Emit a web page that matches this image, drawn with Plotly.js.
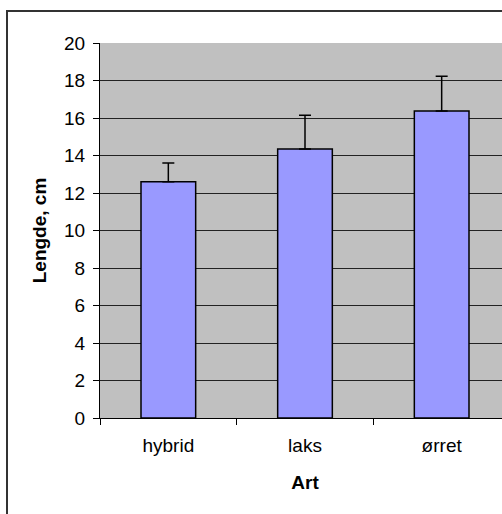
<!DOCTYPE html>
<html>
<head>
<meta charset="utf-8">
<script src="https://cdn.plot.ly/plotly-3.0.1.min.js"></script>
<style>
html, body { margin:0; padding:0; overflow:hidden; background:#fff; width:502px; height:514px; }
#chart { position:absolute; left:0; top:0; width:530px; height:530px; }
#frame { position:absolute; left:6px; top:10px; width:600px; height:600px; border:2px solid #333; pointer-events:none; }
</style>
</head>
<body>
<div id="chart"></div>
<div id="frame"></div>
<script>
const categories = ["hybrid", "laks", "ørret"];
const meanLength = [12.6, 14.35, 16.38];
const sdLength = [1.0, 1.8, 1.85];
const zeros = [0, 0, 0];

const trace = {
  type: "bar",
  x: categories,
  y: meanLength,
  width: 0.4,
  marker: { color: "#9999FF", line: { color: "#000", width: 1.5 } },
  error_y: {
    type: "data",
    symmetric: false,
    array: sdLength,
    arrayminus: zeros,
    color: "#000",
    thickness: 1.5,
    width: 6
  },
  hoverinfo: "skip"
};

const fontFam = "Liberation Sans, Arial, sans-serif";
const layout = {
  width: 530,
  height: 530,
  margin: { l: 100, r: 20, t: 43, b: 112 },
  paper_bgcolor: "#fff",
  plot_bgcolor: "#C0C0C0",
  showlegend: false,
  font: { family: fontFam, size: 19, color: "#000" },
  xaxis: {
    type: "category",
    showline: true, linecolor: "#000", linewidth: 1,
    ticks: "outside", ticklen: 6, tickcolor: "#000", tickson: "boundaries",
    ticklabelstandoff: 10,
    tickfont: { family: fontFam, size: 19, color: "#000" },
    showgrid: false, zeroline: false,
    title: { text: "<b>Art</b>", font: { family: fontFam, size: 19, color: "#000" }, standoff: 20 }
  },
  yaxis: {
    range: [0, 20], dtick: 2, tick0: 0,
    showline: true, linecolor: "#000", linewidth: 1,
    ticks: "outside", ticklen: 6, tickcolor: "#000",
    ticklabelstandoff: 4,
    tickfont: { family: fontFam, size: 19, color: "#000" },
    showgrid: true, gridcolor: "#222", gridwidth: 1,
    zeroline: false,
    title: { text: "<b>Lengde, cm</b>", font: { family: fontFam, size: 19, color: "#000" }, standoff: 12 }
  }
};

Plotly.newPlot("chart", [trace], layout, { staticPlot: true, displayModeBar: false });
</script>
</body>
</html>
